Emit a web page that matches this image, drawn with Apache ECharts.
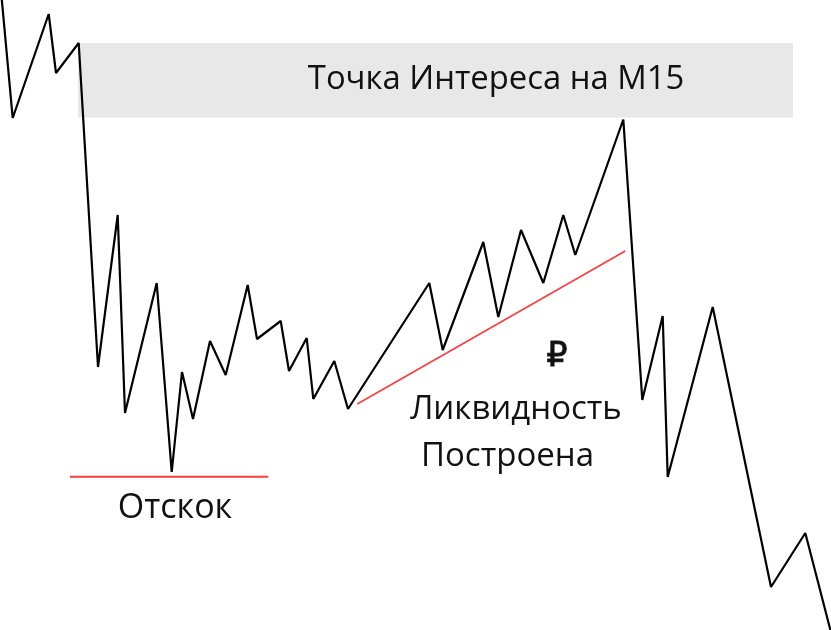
<!DOCTYPE html>
<html>
<head>
<meta charset="utf-8">
<script src="https://cdn.jsdelivr.net/npm/echarts@6/dist/echarts.min.js"></script>
<style>
html,body{margin:0;padding:0;background:#fff;}
#chart{width:831px;height:630px;}
</style>
</head>
<body>
<div id="chart"></div>
<script>
// Price path: time (x) and price (y) of each swing point
const pathTime = [0.9, 12.7, 48.7, 56, 78.7, 98, 117.7, 125, 156.7, 171.7, 182, 193, 210, 225.7, 247.7, 257, 280.7, 289, 306.7, 313.3, 334.3, 348, 429.3, 442.7, 483.3, 498.3, 521, 543.3, 563.3, 575.3, 623.3, 642.3, 662.7, 667.7, 712.7, 771, 805.3, 833];
const pathPrice = [640, 512, 616, 557, 587, 263, 415, 217, 347, 158, 258, 211, 289, 255, 345, 291, 309, 259, 292, 231, 269, 221, 347, 280, 388, 313, 400, 347, 415, 375, 510.5, 230, 314, 153, 323, 43, 97, -10];

// Zone of interest (grey band)
const zoneTime = [78, 793];
const zonePrice = [512.5, 587];

// Red liquidity trend line
const trendTime = [357.3, 625.3];
const trendPrice = [226, 379];

// Red bounce level
const bounceTime = [70, 268.3];
const bouncePrice = [153.3, 153.3];

// Texts
const zoneLabel = 'Точка Интереса на M15';
const liquidityLine1 = 'Ликвидность';
const liquidityLine2 = 'Построена';
const rubleLabel = '₽';
const bounceLabel = 'Отскок';

const toPairs = (xs, ys) => xs.map((x, i) => [x, ys[i]]);

const chart = echarts.init(document.getElementById('chart'), null, {renderer: 'canvas'});
const font = '"Open Sans", "Noto Sans", sans-serif';

chart.setOption({
  animation: false,
  backgroundColor: '#ffffff',
  grid: {left: 0, right: 0, top: 0, bottom: 0},
  xAxis: {type: 'value', min: 0, max: 831, show: false},
  yAxis: {type: 'value', min: 0, max: 630, show: false},
  series: [
    {
      type: 'line',
      z: 1,
      data: [],
      markArea: {
        silent: true,
        itemStyle: {color: '#e8e8e8'},
        label: {show: false},
        data: [[{coord: [zoneTime[0], zonePrice[1]]}, {coord: [zoneTime[1], zonePrice[0]]}]]
      }
    },
    {
      type: 'line',
      z: 3,
      data: toPairs(pathTime, pathPrice),
      showSymbol: false,
      lineStyle: {color: '#000000', width: 2.2},
      clip: true
    },
    {
      type: 'line',
      z: 2,
      data: toPairs(trendTime, trendPrice),
      showSymbol: false,
      lineStyle: {color: '#ff3b3b', width: 1.6}
    },
    {
      type: 'line',
      z: 2,
      data: toPairs(bounceTime, bouncePrice),
      showSymbol: false,
      lineStyle: {color: '#ff3b3b', width: 2}
    }
  ],
  graphic: [
    {type: 'text', x: 496, y: 80, z: 10, style: {text: zoneLabel, font: '32.8px ' + font, fill: '#111', align: 'center', verticalAlign: 'middle'}},
    {type: 'text', x: 557, y: 357, z: 10, style: {text: rubleLabel, font: '33px "DejaVu Sans", sans-serif', fill: '#111', stroke: '#111', lineWidth: 0.8, align: 'center', verticalAlign: 'middle'}},
    {type: 'text', x: 516, y: 410, z: 10, style: {text: liquidityLine1, font: '33px ' + font, fill: '#111', align: 'center', verticalAlign: 'middle'}},
    {type: 'text', x: 507.5, y: 457, z: 10, style: {text: liquidityLine2, font: '33px ' + font, fill: '#111', align: 'center', verticalAlign: 'middle'}},
    {type: 'text', x: 175, y: 508, z: 10, style: {text: bounceLabel, font: '34px ' + font, fill: '#111', align: 'center', verticalAlign: 'middle'}}
  ]
});
</script>
</body>
</html>
